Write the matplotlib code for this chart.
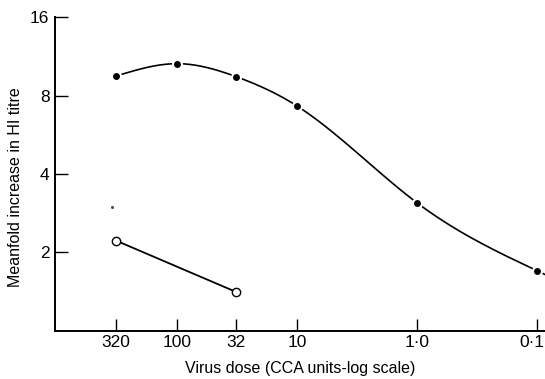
import numpy as np
import matplotlib
matplotlib.use("Agg")
import matplotlib.pyplot as plt
import matplotlib.transforms as mtransforms
from matplotlib.ticker import FixedLocator, NullLocator

plt.rcParams['font.family'] = ['Liberation Sans', 'DejaVu Sans']

# virus dose (CCA units) and mean-fold increase in HI titre
dose_filled = [320, 100, 32, 10, 1.0, 0.1]
rise_filled = [9.5, 10.6, 9.45, 7.3, 3.1, 1.7]

dose_open = [320, 32]
rise_open = [2.22, 1.41]

xticks = [320, 100, 32, 10, 1.0, 0.1]
xtick_labels = ["320", "100", "32", "10", "1·0", "0·1"]
yticks = [2, 4, 8, 16]
ytick_labels = ["2", "4", "8", "16"]


def natural_spline(x, y, xs):
    # natural cubic spline through (x, y), x ascending
    x = np.asarray(x, float)
    y = np.asarray(y, float)
    n = len(x)
    h = np.diff(x)
    A = np.zeros((n, n))
    r = np.zeros(n)
    A[0, 0] = A[-1, -1] = 1
    for i in range(1, n - 1):
        A[i, i - 1] = h[i - 1]
        A[i, i] = 2 * (h[i - 1] + h[i])
        A[i, i + 1] = h[i]
        r[i] = 6 * ((y[i + 1] - y[i]) / h[i] - (y[i] - y[i - 1]) / h[i - 1])
    M = np.linalg.solve(A, r)
    k = np.clip(np.searchsorted(x, xs) - 1, 0, n - 2)
    t0 = xs - x[k]
    t1 = x[k + 1] - xs
    hk = h[k]
    return (M[k] * t1 ** 3 / (6 * hk) + M[k + 1] * t0 ** 3 / (6 * hk)
            + (y[k] / hk - M[k] * hk / 6) * t1
            + (y[k + 1] / hk - M[k + 1] * hk / 6) * t0)


fig = plt.figure(figsize=(5.45, 3.79), dpi=100)
ax = fig.add_axes([0.101, 0.127, 0.899, 0.828])

# smooth curve through the filled points, in log-log space
u = np.log10(dose_filled)[::-1]
v = np.log2(rise_filled)[::-1]
uu = np.linspace(np.log10(0.075), u[-1], 400)
ax.plot(10 ** uu, 2 ** natural_spline(u, v, uu), color="black", lw=1.2,
        zorder=2)

ax.plot(dose_open, rise_open, color="black", lw=1.3, zorder=2)

ax.plot(dose_filled, rise_filled, "o", ms=6.5, mfc="black", mec="white",
        mew=1.5, zorder=3)
ax.plot(dose_open, rise_open, "o", ms=6, mfc="white", mec="black",
        mew=1.0, zorder=3)
# small stray speck on the original figure
ax.plot([345], [3.0], "o", ms=1.2, color="0.3", zorder=3)

ax.set_xscale("log")
ax.set_yscale("log", base=2)
ax.set_xlim(1030, 0.086)
ax.set_ylim(1, 16)

ax.xaxis.set_major_locator(FixedLocator(xticks))
ax.xaxis.set_minor_locator(NullLocator())
ax.set_xticklabels(xtick_labels)
ax.yaxis.set_major_locator(FixedLocator(yticks))
ax.yaxis.set_minor_locator(NullLocator())
ax.set_yticklabels(ytick_labels)

for side in ["top", "right"]:
    ax.spines[side].set_visible(False)
for side in ["left", "bottom"]:
    ax.spines[side].set_linewidth(1.4)

ax.tick_params(axis="both", direction="in", length=9, width=1.0,
               labelsize=12.5, pad=3)
ax.tick_params(axis="y", pad=4)

# last x label sits against the right edge
last = ax.get_xticklabels()[-1]
last.set_horizontalalignment("right")
last.set_transform(last.get_transform()
                   + mtransforms.ScaledTranslation(7 / 100, 0, fig.dpi_scale_trans))

ax.set_xlabel("Virus dose (CCA units-log scale)", fontsize=11.5, labelpad=8)
ax.set_ylabel("Meanfold increase in HI titre", fontsize=11.5)
ax.yaxis.set_label_coords(-0.066, 0.457)

fig.savefig("out.png", dpi=100)
